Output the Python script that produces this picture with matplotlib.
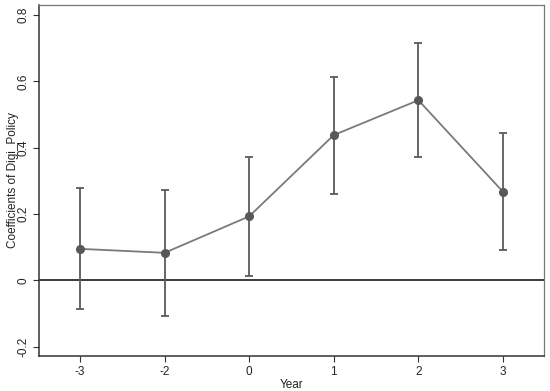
import matplotlib
matplotlib.use("Agg")
import matplotlib.pyplot as plt

plt.rcParams['font.family'] = ['Liberation Sans', 'DejaVu Sans']

years = ["-3", "-2", "0", "1", "2", "3"]
coef = [0.095, 0.083, 0.193, 0.438, 0.543, 0.267]
ci_low = [-0.087, -0.108, 0.013, 0.261, 0.372, 0.091]
ci_high = [0.279, 0.272, 0.373, 0.613, 0.714, 0.444]
yticks = [-0.2, 0, 0.2, 0.4, 0.6, 0.8]
ytick_labels = ["-0.2", "0", "0.2", "0.4", "0.6", "0.8"]

fig = plt.figure(figsize=(5.5, 3.91), dpi=100)
ax = fig.add_axes([39/550, 1 - 356/391, (544-39)/550, (356-5)/391])

x = list(range(len(years)))
yerr = [[c - l for c, l in zip(coef, ci_low)], [h - c for c, h in zip(coef, ci_high)]]
ax.axhline(0, color='#1a1a1a', lw=1.2, zorder=1)
ax.errorbar(x, coef, yerr=yerr, fmt='none', ecolor='#5a5a5a', elinewidth=1.3,
            capsize=3, capthick=1.3, zorder=2)
ax.plot(x, coef, color='#7a7a7a', lw=1.3, zorder=3)
ax.plot(x, coef, 'o', color='#585858', ms=5.5, zorder=4)

ax.set_xlim(-0.485, 5.485)
ax.set_ylim(-0.228, 0.83)
ax.set_xticks(x)
ax.set_xticklabels(years)
ax.set_yticks(yticks)
ax.set_yticklabels(ytick_labels, rotation=90, va='center')
ax.tick_params(axis='both', labelsize=8.5, color='#333333', length=4, width=0.8,
               labelcolor='#222222', pad=3)
ax.set_xlabel("Year", fontsize=8.5, color='#222222', labelpad=-0.5)
ax.set_ylabel("Coefficients of Digi_Policy", fontsize=8.5, color='#222222', labelpad=-1)
ax.xaxis.set_label_coords(0.5, -0.065)

for side in ['top', 'right']:
    ax.spines[side].set_color('#777777')
    ax.spines[side].set_linewidth(0.9)
for side in ['left', 'bottom']:
    ax.spines[side].set_color('#333333')
    ax.spines[side].set_linewidth(1.1)

fig.savefig("out.png", dpi=100)
